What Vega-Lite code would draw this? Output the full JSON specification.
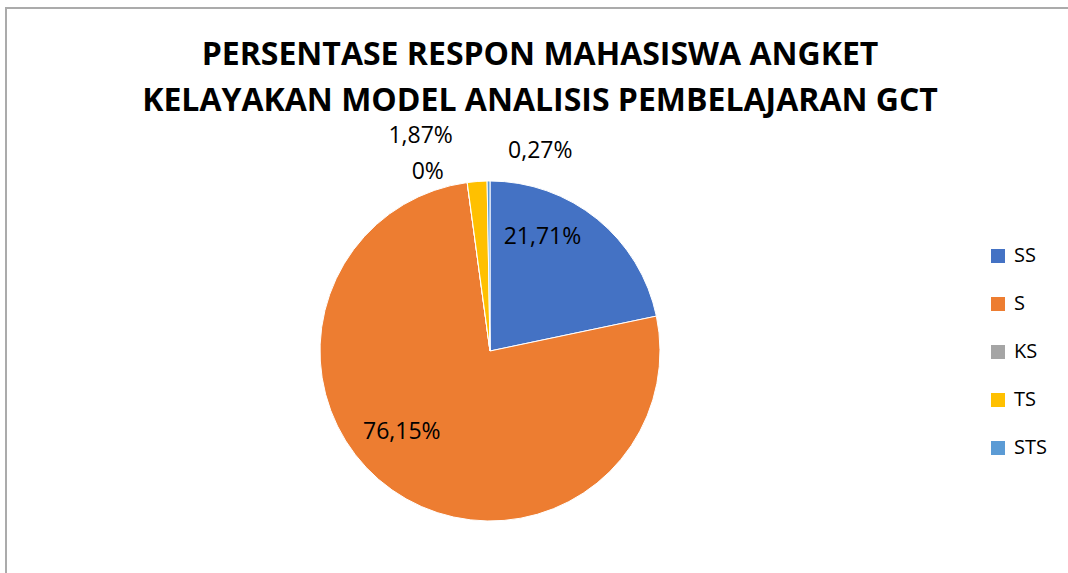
{
  "$schema": "https://vega.github.io/schema/vega-lite/v6.json",
  "autosize": {"type": "none"},
  "width": 1062,
  "height": 565,
  "padding": {"left": 6, "top": 8, "right": 0, "bottom": 0},
  "background": "white",
  "view": {"stroke": "#ABABAB", "strokeWidth": 2, "fill": "white", "strokeDash": [1062, 1627, 565]},
  "config": {
    "font": "Open Sans"
  },
  "title": {
    "text": ["PERSENTASE RESPON MAHASISWA ANGKET", "KELAYAKAN MODEL ANALISIS PEMBELAJARAN GCT"],
    "font": "Open Sans",
    "fontSize": 32,
    "fontWeight": "bold",
    "color": "#000000",
    "anchor": "middle",
    "frame": "group",
    "orient": "top",
    "offset": 0,
    "baseline": "alphabetic",
    "dx": 3,
    "dy": 135,
    "lineHeight": 46
  },
  "data": {
    "values": [
      {"idx": 1, "kategori": "SS", "persen": 21.71, "label": "21,71%"},
      {"idx": 2, "kategori": "S", "persen": 76.15, "label": "76,15%"},
      {"idx": 3, "kategori": "KS", "persen": 0, "label": "0%"},
      {"idx": 4, "kategori": "TS", "persen": 1.87, "label": "1,87%"},
      {"idx": 5, "kategori": "STS", "persen": 0.27, "label": "0,27%"}
    ]
  },
  "encoding": {
    "theta": {"field": "persen", "type": "quantitative", "stack": true},
    "order": {"field": "idx", "type": "ordinal"}
  },
  "layer": [
    {
      "mark": {"type": "arc", "x": 484, "y": 343, "outerRadius": 170, "stroke": "white", "strokeWidth": 1},
      "encoding": {
        "color": {
          "field": "kategori",
          "type": "nominal",
          "sort": ["SS", "S", "KS", "TS", "STS"],
          "scale": {"domain": ["SS", "S", "KS", "TS", "STS"], "range": ["#4472C4", "#ED7D31", "#A5A5A5", "#FFC000", "#5B9BD5"]},
          "legend": {
            "title": null,
            "orient": "none",
            "legendX": 982,
            "legendY": 238,
            "padding": 0,
            "symbolType": "square",
            "symbolSize": 196,
            "symbolStrokeWidth": 0,
            "labelFont": "Open Sans",
            "labelFontSize": 20,
            "labelColor": "#000000",
            "labelOffset": 6,
            "rowPadding": 28
          }
        }
      }
    },
    {
      "mark": {"type": "text", "x": 484, "y": 343, "radius": 126, "dx": -27, "dy": -16, "fontSize": 23, "font": "Open Sans", "color": "#000000"},
      "encoding": {"text": {"condition": {"test": "datum.kategori === 'SS'", "field": "label"}, "value": ""}}
    },
    {
      "mark": {"type": "text", "x": 484, "y": 343, "radius": 120, "dx": -19, "dy": -17, "fontSize": 23, "font": "Open Sans", "color": "#000000"},
      "encoding": {"text": {"condition": {"test": "datum.kategori === 'S'", "field": "label"}, "value": ""}}
    },
    {
      "mark": {"type": "text", "x": 484, "y": 343, "radius": 181, "dx": -38, "fontSize": 23, "font": "Open Sans", "color": "#000000"},
      "encoding": {"text": {"condition": {"test": "datum.kategori === 'KS'", "field": "label"}, "value": ""}}
    },
    {
      "mark": {"type": "text", "x": 484, "y": 343, "radius": 216, "dx": -53, "fontSize": 23, "font": "Open Sans", "color": "#000000"},
      "encoding": {"text": {"condition": {"test": "datum.kategori === 'TS'", "field": "label"}, "value": ""}}
    },
    {
      "mark": {"type": "text", "x": 484, "y": 343, "radius": 200, "dx": 52, "fontSize": 23, "font": "Open Sans", "color": "#000000"},
      "encoding": {"text": {"condition": {"test": "datum.kategori === 'STS'", "field": "label"}, "value": ""}}
    }
  ]
}
